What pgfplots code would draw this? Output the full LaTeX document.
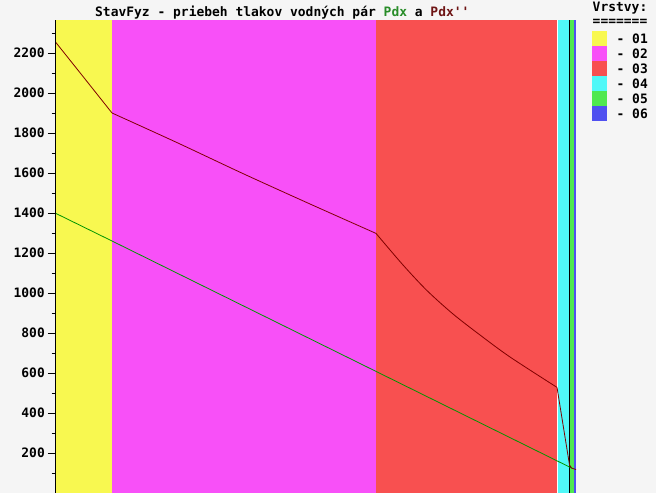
\documentclass[border=0pt]{standalone}
\usepackage{pgfplots}
\pgfplotsset{compat=1.18}
\usepackage{fontspec}
\newfontfamily\chartfont{DejaVu Sans Mono}

\definecolor{bg}{RGB}{245,245,245}
\definecolor{l1}{RGB}{248,248,80}
\definecolor{l2}{RGB}{248,80,248}
\definecolor{l3}{RGB}{248,80,80}
\definecolor{l4}{RGB}{80,248,248}
\definecolor{l5}{RGB}{80,232,80}
\definecolor{l6}{RGB}{80,80,240}
\definecolor{pdx}{RGB}{0,150,0}
\definecolor{pdxs}{RGB}{128,0,0}
\definecolor{tpdx}{RGB}{40,140,40}
\definecolor{tpdxs}{RGB}{110,20,20}

\begin{document}
\begin{tikzpicture}[x=1bp,y=1bp]
\fill[bg] (0,0) rectangle (656,493);
\begin{axis}[
    at={(55bp,0bp)}, anchor=south west,
    scale only axis, width=521bp, height=473bp,
    xmin=0, xmax=521, ymin=0, ymax=2365,
    axis x line=none, axis y line*=left,
    axis on top,
    y axis line style={black, line width=0.8bp, -},
    ytick={200,400,...,2200},
    minor ytick={100,300,...,2300},
    tick align=outside,
    major tick length=7bp, minor tick length=3.5bp,
    tick style={black, line width=0.8bp},
    yticklabel style={font=\chartfont\bfseries\fontsize{13}{15}\selectfont, inner sep=0pt, xshift=-3bp},
    /pgf/number format/assume math mode=true,
    /pgf/number format/1000 sep={},
]
% layers 01..06 (thickness axis in arbitrary units)
\addplot[draw=none, fill=l1] coordinates {(0,2365) (57,2365)} \closedcycle;
\addplot[draw=none, fill=l2] coordinates {(57,2365) (321,2365)} \closedcycle;
\addplot[draw=none, fill=l3] coordinates {(321,2365) (501.5,2365)} \closedcycle;
\addplot[draw=none, fill=white] coordinates {(501.5,2365) (503,2365)} \closedcycle;
\addplot[draw=none, fill=l4] coordinates {(503,2365) (514.5,2365)} \closedcycle;
\addplot[draw=none, fill=l5] coordinates {(514.5,2365) (518.5,2365)} \closedcycle;
\addplot[draw=none, fill=l6] coordinates {(518.5,2365) (521,2365)} \closedcycle;
\addplot[black, line width=0.8bp] coordinates {(514.5,0) (514.5,2365)};
% Pdx
\addplot[pdx, line width=0.8bp] coordinates {
    (0,1400) (57,1260) (321,608) (516.5,125)
};
% Pdx'' (one smooth piece per layer)
\addplot[pdxs, line width=0.8bp, smooth] coordinates {
    (0,2258) (30,2070) (57,1900)
};
\addplot[pdxs, line width=0.8bp, smooth] coordinates {
    (57,1900) (122,1752) (188,1597) (255,1445) (321,1298)
};
\addplot[pdxs, line width=0.8bp, smooth] coordinates {
    (321,1298) (348,1140) (372,1012) (398,895) (425,790) (455,680) (502,528)
};
\addplot[pdxs, line width=0.8bp] coordinates {
    (502,528) (514.5,140) (516.5,125) (521,117)
};
\end{axis}
\begin{scope}[font=\chartfont\bfseries\fontsize{13}{15}\selectfont]
\node[anchor=base west, inner sep=0pt] at (95,476.5)
    {StavFyz - priebeh tlakov vodných pár \textcolor{tpdx}{Pdx} a \textcolor{tpdxs}{Pdx''}};
\node[anchor=base, inner sep=0pt] at (620,481.5) {Vrstvy:};
\node[anchor=center, inner sep=0pt] at (620,471) {=======};
\foreach \c [count=\i] in {l1,l2,l3,l4,l5,l6} {
    \fill[\c] (592,{493-31-15*(\i-1)}) rectangle (607,{493-46-15*(\i-1)});
    \node[anchor=east, inner sep=0pt] at (648,{493-38.5-15*(\i-1)}) {- 0\i};
}
\end{scope}
\pgfresetboundingbox
\useasboundingbox (0,0) rectangle (656,493);
\end{tikzpicture}
\end{document}
